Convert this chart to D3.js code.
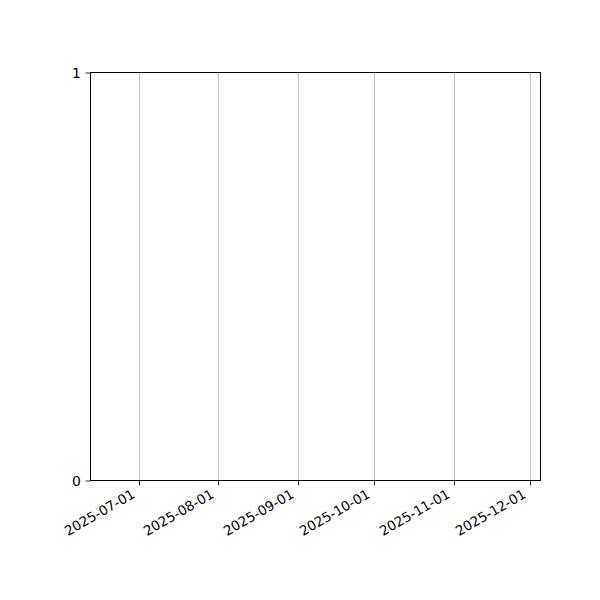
<!DOCTYPE html>
<html>
<head>
<meta charset="utf-8">
<script src="https://cdn.jsdelivr.net/npm/d3@7"></script>
<style>
  body { margin: 0; background: #fff; }
  text { font-family: "DejaVu Sans", sans-serif; font-size: 13.9px; fill: #000; }
</style>
</head>
<body>
<svg id="chart" width="600" height="600"></svg>
<script>
// axis limits and ticks (empty plot, no series)
var xDomain = ["2025-06-12", "2025-12-05"];
var xTickDates = ["2025-07-01", "2025-08-01", "2025-09-01", "2025-10-01", "2025-11-01", "2025-12-01"];
var yDomain = [0, 1];
var yTicks = [0, 1];

var parse = d3.timeParse("%Y-%m-%d");
var fmt = d3.timeFormat("%Y-%m-%d");

var mLeft = 90.5, mRight = 540.5, mTop = 72.5, mBottom = 480.5;

var svg = d3.select("#chart");

var x = d3.scaleTime().domain(xDomain.map(parse)).range([mLeft, mRight]);
var y = d3.scaleLinear().domain(yDomain).range([mBottom, mTop]);

var tickLen = 4.86, pad = 4.86;

// vertical grid
svg.append("g")
  .selectAll("line")
  .data(xTickDates.map(parse))
  .join("line")
    .attr("x1", d => Math.round(x(d)) + 0.5)
    .attr("x2", d => Math.round(x(d)) + 0.5)
    .attr("y1", mTop)
    .attr("y2", mBottom)
    .attr("stroke", "#b0b0b0")
    .attr("stroke-width", 0.8);

// x axis
var xAxis = d3.axisBottom(x)
  .tickValues(xTickDates.map(parse))
  .tickFormat(fmt)
  .tickSize(tickLen)
  .tickPadding(pad);

var xg = svg.append("g")
  .attr("transform", "translate(0," + mBottom + ")")
  .call(xAxis);
xg.select(".domain").remove();
xg.selectAll(".tick line").attr("stroke", "#000").attr("stroke-width", 0.8);
xg.selectAll(".tick").attr("transform", d => "translate(" + (Math.round(x(d)) + 0.5) + ",0)");
xg.selectAll(".tick text")
  .attr("x", 0).attr("y", 0).attr("dy", "-0.24em")
  .attr("text-anchor", "end")
  .style("font-size", "13.5px")
  .attr("transform", "translate(-2," + (tickLen + pad + 9.5) + ") rotate(-30)");

// y axis
var yAxis = d3.axisLeft(y)
  .tickValues(yTicks)
  .tickFormat(d3.format("d"))
  .tickSize(tickLen)
  .tickPadding(pad);

var yg = svg.append("g")
  .attr("transform", "translate(" + mLeft + ",0)")
  .call(yAxis);
yg.select(".domain").remove();
yg.selectAll(".tick line").attr("stroke", "#000").attr("stroke-width", 0.8);
yg.selectAll(".tick text").attr("dy", "0.35em");

// frame
svg.append("rect")
  .attr("x", mLeft).attr("y", mTop)
  .attr("width", mRight - mLeft).attr("height", mBottom - mTop)
  .attr("fill", "none")
  .attr("stroke", "#000")
  .attr("stroke-width", 1);
</script>
</body>
</html>
